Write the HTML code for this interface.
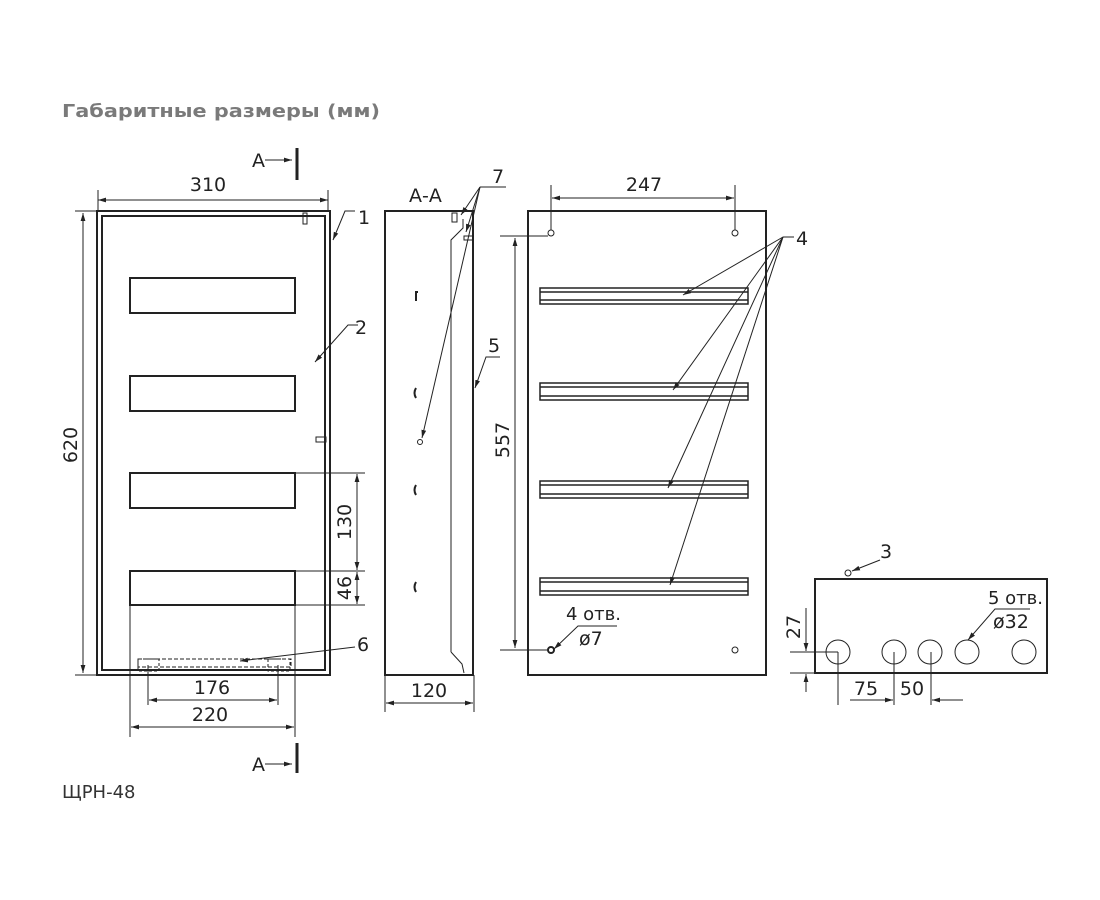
<!DOCTYPE html>
<html><head><meta charset="utf-8"><style>
html,body{margin:0;padding:0;background:#fff;width:1100px;height:900px;overflow:hidden}
svg{display:block}
text{font-family:"DejaVu Sans","Liberation Sans",sans-serif;fill:#222}
</style></head><body>
<svg width="1100" height="900" viewBox="0 0 1100 900" xmlns="http://www.w3.org/2000/svg">
<defs>
<marker id="a" viewBox="0 0 10 6" refX="10" refY="3" markerWidth="8" markerHeight="5" orient="auto-start-reverse"><path d="M0,0L10,3L0,6z" fill="#222"/></marker>
</defs>
<text x="62" y="117" font-size="18" font-weight="bold" textLength="318" lengthAdjust="spacingAndGlyphs" style="fill:#7a7a7a">Габаритные размеры (мм)</text>
<text x="62" y="798" font-size="18" style="fill:#333">ЩРН-48</text>

<g stroke="#222" fill="none" stroke-width="1">
<!-- front view -->
<rect x="97" y="211" width="233" height="464" stroke-width="2"/>
<rect x="102" y="216" width="223" height="454" stroke-width="2"/>
<rect x="130" y="278" width="165" height="35" stroke-width="2"/>
<rect x="130" y="376" width="165" height="35" stroke-width="2"/>
<rect x="130" y="473" width="165" height="35" stroke-width="2"/>
<rect x="130" y="571" width="165" height="34" stroke-width="2"/>
<rect x="303" y="213" width="4" height="11"/>
<rect x="316" y="437" width="10" height="5"/>
<line x1="98" y1="200" x2="328" y2="200" marker-start="url(#a)" marker-end="url(#a)"/>
<line x1="98" y1="190" x2="98" y2="211"/><line x1="328" y1="190" x2="328" y2="211"/>
<line x1="75" y1="211" x2="97" y2="211"/><line x1="75" y1="675" x2="97" y2="675"/>
<line x1="83" y1="213" x2="83" y2="673" marker-start="url(#a)" marker-end="url(#a)"/>
<polyline points="355,211 345,211 333,240" marker-end="url(#a)"/>
<polyline points="358,325 348,325 315,362" marker-end="url(#a)"/>
<line x1="295" y1="473" x2="365" y2="473"/><line x1="295" y1="571" x2="365" y2="571"/><line x1="295" y1="605" x2="365" y2="605"/>
<line x1="357" y1="474" x2="357" y2="570" marker-start="url(#a)" marker-end="url(#a)"/>
<line x1="357" y1="572" x2="357" y2="604" marker-start="url(#a)" marker-end="url(#a)"/>
<line x1="130" y1="605" x2="130" y2="737"/><line x1="295" y1="605" x2="295" y2="737"/>
<line x1="131" y1="727" x2="294" y2="727" marker-start="url(#a)" marker-end="url(#a)"/>
<line x1="148" y1="665" x2="148" y2="705"/><line x1="278" y1="665" x2="278" y2="705"/>
<line x1="149" y1="700" x2="277" y2="700" marker-start="url(#a)" marker-end="url(#a)"/>
<rect x="138" y="659" width="153" height="8" stroke-dasharray="4,2"/>
<rect x="138" y="659" width="21" height="12" stroke-dasharray="3,2"/>
<rect x="268" y="659" width="22" height="12" stroke-dasharray="3,2"/>
<line x1="355" y1="647" x2="240" y2="661" marker-end="url(#a)"/>
<line x1="265" y1="160" x2="292" y2="160" marker-end="url(#a)"/>
<line x1="297" y1="148" x2="297" y2="180" stroke-width="3"/>
<line x1="265" y1="764" x2="292" y2="764" marker-end="url(#a)"/>
<line x1="297" y1="743" x2="297" y2="773" stroke-width="3"/>

<!-- side view -->
<rect x="385" y="211" width="88" height="464" stroke-width="2"/>
<polyline points="451,652 451,240 463,228 463,219"/>
<polyline points="451,652 462,664 464,673"/>
<rect x="452" y="213" width="5" height="9"/>
<rect x="464" y="236" width="9" height="4"/>
<path d="M416,292v9M415,292h3M416,388q-3,5 0,10M416,485q-3,5 0,10M416,582q-3,5 0,10" stroke-width="2"/>
<circle cx="420" cy="442" r="2.5"/>
<line x1="386" y1="703" x2="473" y2="703" marker-start="url(#a)" marker-end="url(#a)"/>
<line x1="385" y1="675" x2="385" y2="712"/><line x1="474" y1="675" x2="474" y2="712"/>
<line x1="480" y1="187" x2="506" y2="187"/>
<line x1="480" y1="187" x2="461" y2="215" marker-end="url(#a)"/>
<line x1="480" y1="187" x2="466" y2="232" marker-end="url(#a)"/>
<line x1="480" y1="187" x2="422" y2="438" marker-end="url(#a)"/>
<polyline points="500,357 486,357 475,388" marker-end="url(#a)"/>

<!-- rear view -->
<rect x="528" y="211" width="238" height="464" stroke-width="2"/>
<circle cx="551" cy="233" r="3"/><circle cx="735" cy="233" r="3"/>
<circle cx="551" cy="650" r="3" stroke-width="2"/><circle cx="735" cy="650" r="3"/>
<line x1="551" y1="185" x2="551" y2="230"/><line x1="735" y1="185" x2="735" y2="230"/>
<line x1="552" y1="198" x2="734" y2="198" marker-start="url(#a)" marker-end="url(#a)"/>
<line x1="500" y1="236" x2="548" y2="236"/><line x1="500" y1="650" x2="548" y2="650"/>
<line x1="515" y1="238" x2="515" y2="648" marker-start="url(#a)" marker-end="url(#a)"/>
<g stroke-width="1.5">
<rect x="540" y="288" width="208" height="16"/><line x1="540" y1="292" x2="748" y2="292"/><line x1="540" y1="300" x2="748" y2="300"/>
<rect x="540" y="383" width="208" height="17"/><line x1="540" y1="387" x2="748" y2="387"/><line x1="540" y1="396" x2="748" y2="396"/>
<rect x="540" y="481" width="208" height="17"/><line x1="540" y1="485" x2="748" y2="485"/><line x1="540" y1="494" x2="748" y2="494"/>
<rect x="540" y="578" width="208" height="17"/><line x1="540" y1="582" x2="748" y2="582"/><line x1="540" y1="591" x2="748" y2="591"/>
</g>
<line x1="783" y1="237" x2="794" y2="237"/>
<line x1="783" y1="237" x2="683" y2="295" marker-end="url(#a)"/>
<line x1="783" y1="237" x2="673" y2="390" marker-end="url(#a)"/>
<line x1="783" y1="237" x2="668" y2="488" marker-end="url(#a)"/>
<line x1="783" y1="237" x2="670" y2="585" marker-end="url(#a)"/>
<polyline points="617,626 578,626 554,649" marker-end="url(#a)"/>

<!-- bottom view -->
<rect x="815" y="579" width="232" height="94" stroke-width="2"/>
<circle cx="838" cy="652" r="12"/><circle cx="894" cy="652" r="12"/><circle cx="930" cy="652" r="12"/><circle cx="967" cy="652" r="12"/><circle cx="1024" cy="652" r="12"/>
<circle cx="848" cy="573" r="3"/>
<line x1="880" y1="560" x2="852" y2="571" marker-end="url(#a)"/>
<polyline points="1030,609 995,609 968,640" marker-end="url(#a)"/>
<line x1="790" y1="652" x2="838" y2="652"/><line x1="790" y1="673" x2="815" y2="673"/>
<line x1="806" y1="608" x2="806" y2="651" marker-end="url(#a)"/>
<line x1="806" y1="692" x2="806" y2="674" marker-end="url(#a)"/>
<line x1="838" y1="652" x2="838" y2="705"/><line x1="894" y1="652" x2="894" y2="705"/><line x1="931" y1="652" x2="931" y2="705"/>
<line x1="850" y1="700" x2="893" y2="700" marker-end="url(#a)"/>
<line x1="963" y1="700" x2="932" y2="700" marker-end="url(#a)"/>
</g>

<g font-size="19">
<text x="252" y="167">А</text>
<text x="252" y="771">А</text>
<text x="208" y="191" text-anchor="middle">310</text>
<text transform="translate(77,445) rotate(-90)" text-anchor="middle">620</text>
<text x="358" y="224">1</text>
<text x="355" y="334">2</text>
<text transform="translate(351,522) rotate(-90)" text-anchor="middle">130</text>
<text transform="translate(351,588) rotate(-90)" text-anchor="middle">46</text>
<text x="212" y="694" text-anchor="middle">176</text>
<text x="210" y="721" text-anchor="middle">220</text>
<text x="357" y="651">6</text>
<text x="409" y="202">А-А</text>
<text x="429" y="697" text-anchor="middle">120</text>
<text x="492" y="183">7</text>
<text x="488" y="352">5</text>
<text x="644" y="191" text-anchor="middle">247</text>
<text transform="translate(509,440) rotate(-90)" text-anchor="middle">557</text>
<text x="796" y="245">4</text>
<text x="566" y="620" font-size="18">4 отв.</text>
<text x="579" y="645">ø7</text>
<text x="880" y="558">3</text>
<text x="988" y="604" font-size="18">5 отв.</text>
<text x="993" y="628">ø32</text>
<text transform="translate(800,627) rotate(-90)" text-anchor="middle">27</text>
<text x="866" y="695" text-anchor="middle">75</text>
<text x="912" y="695" text-anchor="middle">50</text>
</g>
</svg>
</body></html>
